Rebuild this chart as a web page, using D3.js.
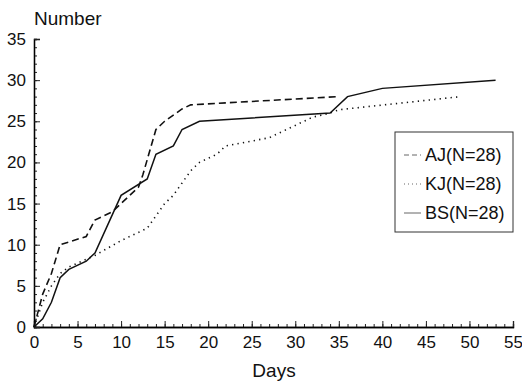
<!DOCTYPE html>
<html>
<head>
<meta charset="utf-8">
<script src="https://cdn.jsdelivr.net/npm/d3@7"></script>
<style>
  body { margin: 0; background: #fff; }
  svg { display: block; font-family: "Liberation Sans", Arial, sans-serif; }
</style>
</head>
<body>
<div id="chart"></div>
<script>
// series: [day, number]
const ajData = [[0,0],[1,4],[2,6.5],[3,10],[6,11],[7,13],[9,14],[10,15],[12,17],[12.5,18.5],[14,24],[15,25],[17,26.5],[18,27],[35,28]];
const kjData = [[0,0],[1,3],[2,5],[3,6.5],[4,7.3],[7,8.7],[10,10.5],[13,12],[14,13.5],[15,15],[16,16],[17,17.5],[18,19],[19,20],[21,21],[22,22],[24,22.4],[27,23],[29,24],[32,25.5],[34,26],[35,26.4],[49,28]];
const bsData = [[0,0],[1,1],[2,3],[3,6],[4,7],[6,8],[7,9],[10,16],[13,18],[14,21],[16,22],[17,24],[19,25],[34,26],[36,28],[40,29],[53,30]];

const seriesNames = ["AJ(N=28)", "KJ(N=28)", "BS(N=28)"];
const xTicks = d3.range(0, 56, 5);
const yTicks = d3.range(0, 36, 5);

const width = 522, height = 384;
const margin = {top: 39, right: 9, bottom: 57, left: 34};
const fontFam = "Liberation Sans, Arial, sans-serif";

const svg = d3.select("#chart").append("svg")
    .attr("width", width)
    .attr("height", height);

const x = d3.scaleLinear().domain([0, 55]).range([margin.left, width - margin.right]);
const y = d3.scaleLinear().domain([0, 35]).range([height - margin.bottom, margin.top]);

// axes: ticks point into the plot, minor tick every unit
const xAxis = svg.append("g").attr("transform", "translate(0," + y(0) + ")");
xAxis.call(d3.axisBottom(x).tickValues(d3.range(0, 56, 1)).tickSize(-3).tickFormat(""));
xAxis.append("g").call(d3.axisBottom(x).tickValues(xTicks).tickSize(-6).tickFormat(d3.format("d")).tickPadding(9));
xAxis.selectAll("path.domain").attr("stroke", "#000").attr("stroke-width", 1.3);
xAxis.selectAll(".tick line").attr("stroke", "#222");
xAxis.selectAll("text").attr("font-size", 17).attr("fill", "#111").attr("font-family", fontFam);

const yAxis = svg.append("g").attr("transform", "translate(" + x(0) + ",0)");
yAxis.call(d3.axisLeft(y).tickValues(d3.range(0, 36, 1)).tickSize(-3).tickFormat(""));
yAxis.append("g").call(d3.axisLeft(y).tickValues(yTicks).tickSize(-6).tickFormat(d3.format("d")).tickPadding(8));
yAxis.selectAll("path.domain").attr("stroke", "#000").attr("stroke-width", 1.3);
yAxis.selectAll(".tick line").attr("stroke", "#222");
yAxis.selectAll("text").attr("font-size", 17).attr("fill", "#111").attr("font-family", fontFam);

// axis titles
svg.append("text")
    .attr("x", 34).attr("y", 25)
    .attr("font-size", 19).attr("fill", "#111")
    .text("Number");
svg.append("text")
    .attr("x", 274).attr("y", 377)
    .attr("text-anchor", "middle")
    .attr("font-size", 19).attr("fill", "#111")
    .text("Days");

const line = d3.line().x(d => x(d[0])).y(d => y(d[1]));

const styles = [
  {data: ajData, dash: "7,4", width: 1.6},
  {data: kjData, dash: "1.3,4.2", width: 1.6},
  {data: bsData, dash: null, width: 1.5}
];

styles.forEach(s => {
  svg.append("path")
      .datum(s.data)
      .attr("fill", "none")
      .attr("stroke", "#111")
      .attr("stroke-width", s.width)
      .attr("stroke-dasharray", s.dash)
      .attr("d", line);
});

// legend
const legend = svg.append("g").attr("transform", "translate(395,132)");
legend.append("rect")
    .attr("width", 118).attr("height", 100)
    .attr("fill", "#fff").attr("stroke", "#333").attr("stroke-width", 1);

seriesNames.forEach((name, i) => {
  const ly = 23 + i * 29;
  legend.append("line")
      .attr("x1", 9).attr("x2", 26)
      .attr("y1", ly).attr("y2", ly)
      .attr("stroke", "#666").attr("stroke-width", 1)
      .attr("stroke-dasharray", styles[i].dash ? (i === 0 ? "5,3" : "1,3") : null);
  legend.append("text")
      .attr("x", 30).attr("y", ly + 6)
      .attr("font-size", 18).attr("fill", "#111")
      .text(name);
});
</script>
</body>
</html>
